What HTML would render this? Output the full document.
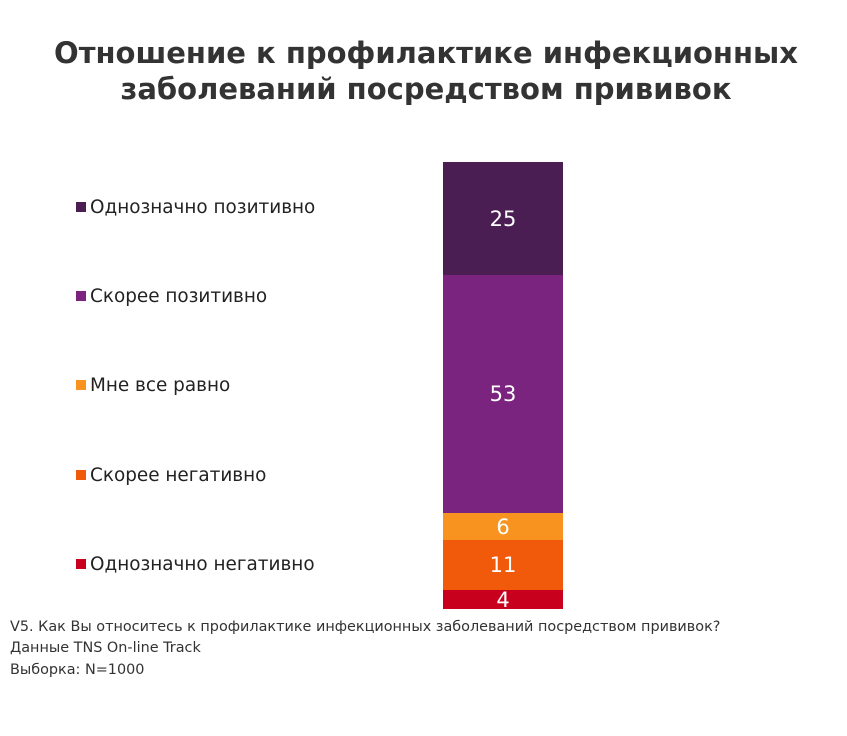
<!DOCTYPE html>
<html><head><meta charset="utf-8"><style>
body{margin:0;width:847px;height:736px;background:#fff;position:relative;font-family:"DejaVu Sans","Liberation Sans",sans-serif;overflow:hidden}
.t{position:absolute;left:0;width:852px;text-align:center;font-weight:bold;font-size:29px;color:#333;line-height:36px;top:35px}
.lg{position:absolute;left:76px;font-size:18.4px;color:#222;line-height:20px}
.lg i{display:inline-block;width:10px;height:10px;margin-right:4px;vertical-align:1px}
.seg{position:absolute;left:443px;width:120px;color:#fff;font-size:21px;display:flex;align-items:center;justify-content:center}
.f{position:absolute;left:10px;font-size:14.4px;color:#333}
</style></head><body>
<div class="t">Отношение к профилактике инфекционных<br>заболеваний посредством прививок</div>
<div class="lg" style="top:198px"><i style="background:#4a1e52"></i>Однозначно позитивно</div>
<div class="lg" style="top:287px"><i style="background:#7a2480"></i>Скорее позитивно</div>
<div class="lg" style="top:376px"><i style="background:#f7931e"></i>Мне все равно</div>
<div class="lg" style="top:466px"><i style="background:#f05a0a"></i>Скорее негативно</div>
<div class="lg" style="top:555px"><i style="background:#c8001e"></i>Однозначно негативно</div>
<div class="seg" style="top:162px;height:113px;background:#4a1e52">25</div>
<div class="seg" style="top:275px;height:238px;background:#7a2480">53</div>
<div class="seg" style="top:513px;height:27px;background:#f7931e">6</div>
<div class="seg" style="top:540px;height:50px;background:#f05a0a">11</div>
<div class="seg" style="top:590px;height:19px;background:#c8001e">4</div>
<div class="f" style="top:619px">V5. Как Вы относитесь к профилактике инфекционных заболеваний посредством прививок?</div>
<div class="f" style="top:640px">Данные TNS On-line Track</div>
<div class="f" style="top:662px">Выборка: N=1000</div>
</body></html>
